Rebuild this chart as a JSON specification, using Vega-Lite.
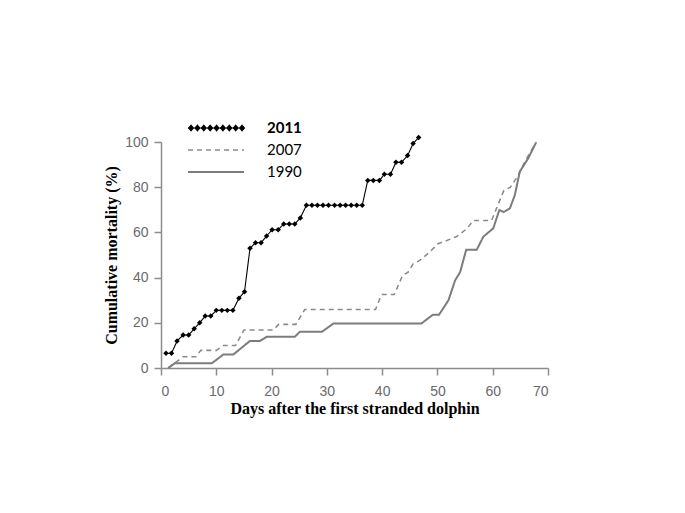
{
  "$schema": "https://vega.github.io/schema/vega-lite/v6.json",
  "autosize": "none",
  "width": 387,
  "height": 226,
  "padding": {"left": 161, "top": 142, "right": 137, "bottom": 145},
  "background": "white",
  "config": {
    "view": {"stroke": null},
    "axis": {
      "grid": false,
      "domainColor": "#8c8c8c",
      "tickColor": "#8c8c8c",
      "domainWidth": 1.5,
      "tickWidth": 1.5,
      "tickSize": 7,
      "labelFont": "Liberation Sans",
      "labelFontSize": 14,
      "labelColor": "#6a6a6a",
      "titleFont": "Liberation Serif",
      "titleFontSize": 16,
      "titleFontWeight": "bold",
      "titleColor": "#000000"
    }
  },
  "data": {
    "values": [
      {"series": "2011", "day": 0.9, "pct": 6.5},
      {"series": "2011", "day": 1.9, "pct": 6.5},
      {"series": "2011", "day": 2.9, "pct": 11.9},
      {"series": "2011", "day": 4.0, "pct": 14.6},
      {"series": "2011", "day": 5.0, "pct": 14.6},
      {"series": "2011", "day": 6.0, "pct": 17.4},
      {"series": "2011", "day": 7.0, "pct": 20.0},
      {"series": "2011", "day": 8.0, "pct": 23.0},
      {"series": "2011", "day": 9.0, "pct": 23.0},
      {"series": "2011", "day": 10.0, "pct": 25.5},
      {"series": "2011", "day": 11.0, "pct": 25.5},
      {"series": "2011", "day": 12.0, "pct": 25.5},
      {"series": "2011", "day": 13.0, "pct": 25.5},
      {"series": "2011", "day": 14.1, "pct": 30.9},
      {"series": "2011", "day": 15.1, "pct": 33.7},
      {"series": "2011", "day": 16.1, "pct": 53.0},
      {"series": "2011", "day": 17.1, "pct": 55.4},
      {"series": "2011", "day": 18.1, "pct": 55.4},
      {"series": "2011", "day": 19.1, "pct": 58.4},
      {"series": "2011", "day": 20.1, "pct": 61.2},
      {"series": "2011", "day": 21.2, "pct": 61.2},
      {"series": "2011", "day": 22.2, "pct": 63.7},
      {"series": "2011", "day": 23.2, "pct": 63.7},
      {"series": "2011", "day": 24.2, "pct": 63.7},
      {"series": "2011", "day": 25.2, "pct": 66.4},
      {"series": "2011", "day": 26.3, "pct": 72.0},
      {"series": "2011", "day": 27.3, "pct": 72.0},
      {"series": "2011", "day": 28.3, "pct": 72.0},
      {"series": "2011", "day": 29.3, "pct": 72.0},
      {"series": "2011", "day": 30.3, "pct": 72.0},
      {"series": "2011", "day": 31.4, "pct": 72.0},
      {"series": "2011", "day": 32.4, "pct": 72.0},
      {"series": "2011", "day": 33.4, "pct": 72.0},
      {"series": "2011", "day": 34.4, "pct": 72.0},
      {"series": "2011", "day": 35.4, "pct": 72.0},
      {"series": "2011", "day": 36.4, "pct": 72.0},
      {"series": "2011", "day": 37.4, "pct": 83.0},
      {"series": "2011", "day": 38.4, "pct": 83.0},
      {"series": "2011", "day": 39.5, "pct": 83.0},
      {"series": "2011", "day": 40.4, "pct": 85.7},
      {"series": "2011", "day": 41.5, "pct": 85.7},
      {"series": "2011", "day": 42.5, "pct": 91.0},
      {"series": "2011", "day": 43.5, "pct": 91.0},
      {"series": "2011", "day": 44.6, "pct": 94.0},
      {"series": "2011", "day": 45.6, "pct": 99.3},
      {"series": "2011", "day": 46.6, "pct": 102.0},
      {"series": "2007", "day": 1.3, "pct": 0},
      {"series": "2007", "day": 4.0, "pct": 5.0},
      {"series": "2007", "day": 6.3, "pct": 5.0},
      {"series": "2007", "day": 7.2, "pct": 7.8},
      {"series": "2007", "day": 10.0, "pct": 7.8},
      {"series": "2007", "day": 11.3, "pct": 10.0},
      {"series": "2007", "day": 13.5, "pct": 10.0},
      {"series": "2007", "day": 15.0, "pct": 16.8},
      {"series": "2007", "day": 20.3, "pct": 16.8},
      {"series": "2007", "day": 21.3, "pct": 19.3},
      {"series": "2007", "day": 24.4, "pct": 19.3},
      {"series": "2007", "day": 26.0, "pct": 25.9},
      {"series": "2007", "day": 38.8, "pct": 25.9},
      {"series": "2007", "day": 39.9, "pct": 32.5},
      {"series": "2007", "day": 42.2, "pct": 32.5},
      {"series": "2007", "day": 43.7, "pct": 41.0},
      {"series": "2007", "day": 44.7, "pct": 42.4},
      {"series": "2007", "day": 45.6, "pct": 46.1},
      {"series": "2007", "day": 46.8, "pct": 47.6},
      {"series": "2007", "day": 48.6, "pct": 51.3},
      {"series": "2007", "day": 50.1, "pct": 55.0},
      {"series": "2007", "day": 51.7, "pct": 56.4},
      {"series": "2007", "day": 53.5, "pct": 58.2},
      {"series": "2007", "day": 55.3, "pct": 61.6},
      {"series": "2007", "day": 56.5, "pct": 65.3},
      {"series": "2007", "day": 59.8, "pct": 65.3},
      {"series": "2007", "day": 62.0, "pct": 78.5},
      {"series": "2007", "day": 63.2, "pct": 80.0},
      {"series": "2007", "day": 64.6, "pct": 85.2},
      {"series": "2007", "day": 66.1, "pct": 92.6},
      {"series": "2007", "day": 67.9, "pct": 100.0},
      {"series": "1990", "day": 1.3, "pct": 0},
      {"series": "1990", "day": 2.5, "pct": 2.1},
      {"series": "1990", "day": 9.2, "pct": 2.1},
      {"series": "1990", "day": 11.3, "pct": 6.0},
      {"series": "1990", "day": 13.1, "pct": 6.0},
      {"series": "1990", "day": 16.1, "pct": 12.0},
      {"series": "1990", "day": 17.9, "pct": 12.0},
      {"series": "1990", "day": 19.1, "pct": 13.8},
      {"series": "1990", "day": 24.2, "pct": 13.8},
      {"series": "1990", "day": 25.1, "pct": 16.0},
      {"series": "1990", "day": 29.1, "pct": 16.0},
      {"series": "1990", "day": 31.2, "pct": 19.7},
      {"series": "1990", "day": 47.1, "pct": 19.7},
      {"series": "1990", "day": 49.2, "pct": 23.6},
      {"series": "1990", "day": 50.3, "pct": 23.6},
      {"series": "1990", "day": 52.0, "pct": 30.0},
      {"series": "1990", "day": 53.2, "pct": 38.8},
      {"series": "1990", "day": 54.1, "pct": 42.4},
      {"series": "1990", "day": 55.2, "pct": 52.3},
      {"series": "1990", "day": 57.1, "pct": 52.3},
      {"series": "1990", "day": 58.3, "pct": 58.1},
      {"series": "1990", "day": 60.1, "pct": 61.8},
      {"series": "1990", "day": 61.2, "pct": 69.9},
      {"series": "1990", "day": 62.0, "pct": 69.0},
      {"series": "1990", "day": 63.1, "pct": 70.6},
      {"series": "1990", "day": 64.0, "pct": 76.5},
      {"series": "1990", "day": 64.9, "pct": 86.9},
      {"series": "1990", "day": 66.4, "pct": 92.7},
      {"series": "1990", "day": 67.8, "pct": 99.6}
    ]
  },
  "encoding": {
    "x": {
      "field": "day", "type": "quantitative",
      "scale": {"domain": [0, 70], "nice": false, "zero": false},
      "axis": {"values": [0, 10, 20, 30, 40, 50, 60, 70], "title": "Days after the first stranded dolphin", "labelPadding": 9, "titlePadding": 2}
    },
    "y": {
      "field": "pct", "type": "quantitative",
      "scale": {"domain": [0, 100], "nice": false},
      "axis": {"values": [0, 20, 40, 60, 80, 100], "title": "Cumulative mortality (%)", "labelPadding": 6, "titlePadding": 5}
    }
  },
  "layer": [
    {
      "mark": {"type": "line", "interpolate": "linear"},
      "encoding": {
        "color": {
          "field": "series", "type": "nominal",
          "scale": {"domain": ["2011", "2007", "1990"], "range": ["#000000", "#8a8a8a", "#7c7c7c"]},
          "legend": {
            "title": null,
            "orient": "none",
            "legendX": 26,
            "legendY": -25,
            "symbolType": "stroke",
            "symbolSize": 400,
            "symbolStrokeWidth": 2,
            "labelOffset": 58,
            "labelFont": "Lato",
            "labelFontSize": 15,
            "labelColor": "#000000",
            "rowPadding": 3,
            "encode": {
              "symbols": {
                "update": {
                  "shape": {"signal": "datum.value === '2011' ? 'M-1,0L4.6,0M-0.95,0L-0.7,-0.28L-0.45,0L-0.7,0.28ZM-0.3125,0L-0.0625,-0.28L0.1875,0L-0.0625,0.28ZM0.325,0L0.575,-0.28L0.825,0L0.575,0.28ZM0.9625,0L1.2125,-0.28L1.4625,0L1.2125,0.28ZM1.6,0L1.85,-0.28L2.1,0L1.85,0.28ZM2.2375,0L2.4875,-0.28L2.7375,0L2.4875,0.28ZM2.875,0L3.125,-0.28L3.375,0L3.125,0.28ZM3.5125,0L3.7625,-0.28L4.0125,0L3.7625,0.28ZM4.15,0L4.4,-0.28L4.65,0L4.4,0.28Z' : 'M-1,0L4.6,0'"},
                  "fill": {"signal": "datum.value === '2011' ? '#000000' : 'transparent'"},
                  "strokeWidth": {"signal": "datum.value === '2011' ? 1.5 : 2"}
                }
              },
              "labels": {
                "update": {
                  "fontWeight": {"signal": "datum.value === '2011' ? 'bold' : 'normal'"}
                }
              }
            }
          }
        },
        "strokeDash": {
          "field": "series", "type": "nominal",
          "scale": {"domain": ["2011", "2007", "1990"], "range": [[1, 0], [5, 4], [1, 0]]},
          "legend": null
        },
        "strokeWidth": {
          "field": "series", "type": "nominal",
          "scale": {"domain": ["2011", "2007", "1990"], "range": [1.1, 2, 2]},
          "legend": null
        }
      }
    },
    {
      "transform": [{"filter": "datum.series === '2011'"}],
      "mark": {"type": "point", "shape": "diamond", "filled": true, "color": "#000000", "size": 30, "opacity": 1}
    }
  ]
}
